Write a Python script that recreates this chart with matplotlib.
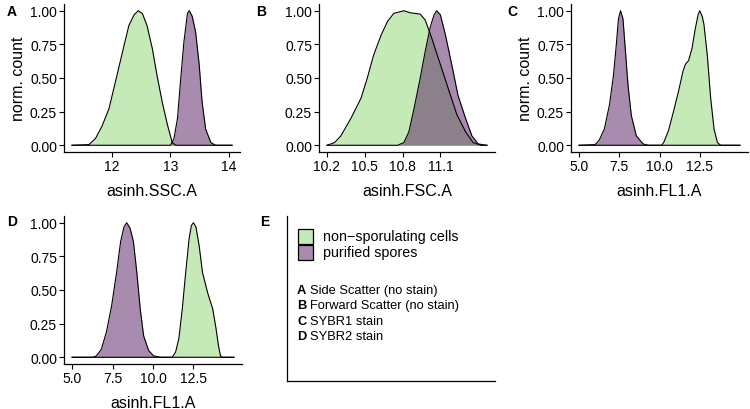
import matplotlib
matplotlib.use("Agg")
import matplotlib.pyplot as plt
from matplotlib.patches import Rectangle

plt.rcParams['font.family'] = ['Liberation Sans', 'DejaVu Sans']

# density curves (x, normalised count)
a_cells_x = [11.32, 11.61, 11.72, 11.83, 11.95, 12.06, 12.18, 12.29, 12.38, 12.45, 12.52, 12.60, 12.69, 12.77, 12.86, 12.95, 13.03, 13.09, 14.05]
a_cells_y = [0, 0.005, 0.05, 0.14, 0.27, 0.47, 0.69, 0.89, 0.97, 1.00, 0.98, 0.89, 0.72, 0.52, 0.32, 0.15, 0.02, 0, 0]
a_spores_x = [11.32, 13.00, 13.06, 13.12, 13.17, 13.23, 13.29, 13.32, 13.37, 13.43, 13.49, 13.54, 13.60, 13.69, 13.77, 14.05]
a_spores_y = [0, 0, 0.05, 0.20, 0.47, 0.77, 0.98, 1.0, 0.96, 0.84, 0.60, 0.32, 0.12, 0.02, 0, 0]

b_cells_x = [10.2, 10.26, 10.31, 10.39, 10.47, 10.52, 10.57, 10.63, 10.68, 10.73, 10.81, 10.86, 10.94, 10.98, 11.03, 11.10, 11.17, 11.23, 11.30, 11.36, 11.42, 11.47]
b_cells_y = [0, 0.02, 0.07, 0.20, 0.35, 0.50, 0.67, 0.82, 0.92, 0.98, 1.0, 0.985, 0.975, 0.93, 0.80, 0.60, 0.40, 0.23, 0.10, 0.02, 0, 0]
b_spores_x = [10.2, 10.76, 10.81, 10.85, 10.89, 10.94, 10.98, 11.02, 11.05, 11.07, 11.10, 11.14, 11.19, 11.24, 11.30, 11.35, 11.40, 11.47]
b_spores_y = [0, 0, 0.02, 0.10, 0.27, 0.50, 0.70, 0.88, 0.97, 1.0, 0.97, 0.82, 0.60, 0.37, 0.20, 0.07, 0.01, 0]

c_cells_x = [5.0, 10.14, 10.28, 10.56, 10.87, 11.18, 11.46, 11.6, 11.81, 12.02, 12.23, 12.40, 12.5, 12.65, 12.76, 12.97, 13.18, 13.39, 13.6, 13.8, 15.0]
c_cells_y = [0, 0, 0.025, 0.11, 0.25, 0.40, 0.55, 0.60, 0.63, 0.72, 0.87, 0.97, 1.0, 0.96, 0.90, 0.67, 0.35, 0.12, 0.02, 0, 0]
c_spores_x = [5.0, 6.0, 6.26, 6.57, 6.89, 7.14, 7.31, 7.45, 7.58, 7.73, 7.87, 8.04, 8.25, 8.56, 8.98, 9.3, 15.0]
c_spores_y = [0, 0.005, 0.04, 0.12, 0.30, 0.52, 0.74, 0.94, 1.0, 0.94, 0.72, 0.45, 0.22, 0.07, 0.01, 0, 0]

d_cells_x = [5.0, 11.19, 11.4, 11.6, 11.81, 12.02, 12.23, 12.375, 12.5, 12.65, 12.85, 13.06, 13.375, 13.69, 13.9, 14.04, 14.17, 14.3, 15.0]
d_cells_y = [0, 0, 0.04, 0.14, 0.36, 0.63, 0.88, 0.98, 1.0, 0.97, 0.83, 0.63, 0.48, 0.36, 0.21, 0.09, 0.01, 0, 0]
d_spores_x = [5.0, 6.3, 6.5, 6.81, 7.125, 7.44, 7.75, 8.0, 8.21, 8.375, 8.58, 8.79, 9.0, 9.21, 9.42, 9.73, 10.04, 10.46, 15.0]
d_spores_y = [0, 0, 0.01, 0.06, 0.19, 0.38, 0.63, 0.86, 0.97, 1.0, 0.96, 0.86, 0.63, 0.36, 0.16, 0.05, 0.01, 0, 0]

x_labels = ["asinh.SSC.A", "asinh.FSC.A", "asinh.FL1.A", "asinh.FL1.A"]
x_ticks = [[12, 13, 14], [10.2, 10.5, 10.8, 11.1], [5.0, 7.5, 10.0, 12.5], [5.0, 7.5, 10.0, 12.5]]
x_tick_labels = [["12", "13", "14"], ["10.2", "10.5", "10.8", "11.1"],
                 ["5.0", "7.5", "10.0", "12.5"], ["5.0", "7.5", "10.0", "12.5"]]
y_ticks = [0, 0.25, 0.5, 0.75, 1.0]
y_tick_labels = ["0.00", "0.25", "0.50", "0.75", "1.00"]
legend_labels = ["non\u2212sporulating cells", "purified spores"]
panel_notes = [("A", "Side Scatter (no stain)"), ("B", "Forward Scatter (no stain)"),
               ("C", "SYBR1 stain"), ("D", "SYBR2 stain")]

cells_color = "#8dd571"
spores_color = "#551961"
alpha = 0.5

W, H = 750, 410
fig = plt.figure(figsize=(7.5, 4.1), dpi=100)


def px_axes(left, right, top, bottom):
    return fig.add_axes([left / W, 1 - bottom / H, (right - left) / W, (bottom - top) / H])


def style(ax):
    for s in ["top", "right"]:
        ax.spines[s].set_visible(False)
    for s in ["left", "bottom"]:
        ax.spines[s].set_linewidth(0.9)
    ax.tick_params(length=3.5, width=0.8, labelsize=10, pad=1.5, colors="black")


def density_panel(ax, cx, cy, sx, sy, i, ylabel):
    ax.fill_between(cx, cy, color=cells_color, alpha=alpha, lw=0)
    ax.plot(cx, cy, color="black", lw=0.8)
    ax.fill_between(sx, sy, color=spores_color, alpha=alpha, lw=0)
    ax.plot(sx, sy, color="black", lw=0.8)
    lo, hi = min(cx[0], sx[0]), max(cx[-1], sx[-1])
    pad = (hi - lo) * 0.05
    ax.set_xlim(lo - pad, hi + pad)
    ax.set_ylim(-0.05, 1.05)
    ax.set_xticks(x_ticks[i])
    ax.set_xticklabels(x_tick_labels[i])
    ax.set_yticks(y_ticks)
    ax.set_yticklabels(y_tick_labels)
    ax.set_xlabel(x_labels[i], fontsize=11.5, labelpad=7)
    if ylabel:
        ax.set_ylabel("norm. count", fontsize=11.5, labelpad=3)
    style(ax)


axA = px_axes(64, 240, 5, 153)
density_panel(axA, a_cells_x, a_cells_y, a_spores_x, a_spores_y, 0, True)
axB = px_axes(319, 495, 5, 153)
density_panel(axB, b_cells_x, b_cells_y, b_spores_x, b_spores_y, 1, False)
axC = px_axes(571, 748, 5, 153)
density_panel(axC, c_cells_x, c_cells_y, c_spores_x, c_spores_y, 2, True)
axD = px_axes(64, 242, 217, 365)
density_panel(axD, d_cells_x, d_cells_y, d_spores_x, d_spores_y, 3, False)

# panel E: legend only
axE = px_axes(287, 495, 217, 382)
axE.set_xlim(0, 208)
axE.set_ylim(165, 0)
axE.set_xticks([])
axE.set_yticks([])
for s in ["top", "right"]:
    axE.spines[s].set_visible(False)
for s in ["left", "bottom"]:
    axE.spines[s].set_linewidth(0.9)

for k, (lab, col) in enumerate(zip(legend_labels, [cells_color, spores_color])):
    y0 = 13 + k * 16
    axE.add_patch(Rectangle((11, y0), 15, 15, facecolor=col, alpha=alpha, edgecolor="none"))
    axE.add_patch(Rectangle((11, y0), 15, 15, facecolor="none", edgecolor="black", lw=0.9))
    axE.text(36, y0 + 7.5, lab, fontsize=10.3, va="center", ha="left")

for k, (letter, note) in enumerate(panel_notes):
    y0 = 74 + k * 15.3
    axE.text(10, y0, letter, fontsize=9.3, fontweight="bold", va="center", ha="left")
    axE.text(23, y0, note, fontsize=9.3, va="center", ha="left")

# panel letters
for letter, (x, y) in zip("ABCDE", [(12, 12), (261, 12), (512, 12), (12, 222), (265, 222)]):
    fig.text(x / W, 1 - y / H, letter, fontsize=10, fontweight="bold", va="center", ha="center")

fig.savefig("out.png", dpi=100)
